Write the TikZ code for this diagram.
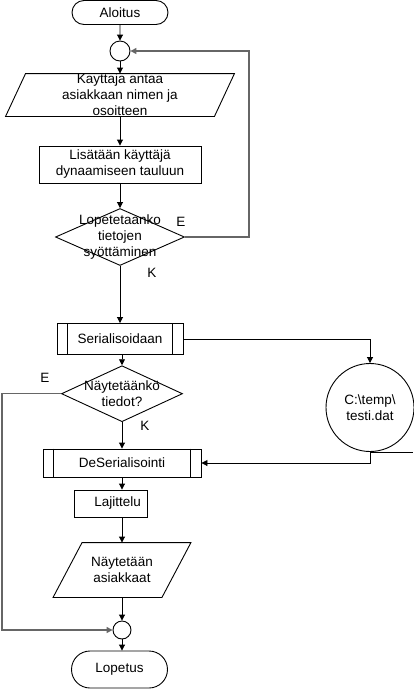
\documentclass[tikz,border=0pt]{standalone}
\usepackage{fontspec}
\setmainfont{Liberation Sans}
\usetikzlibrary{shapes.geometric,shapes.misc,arrows.meta}

\begin{document}
\begin{tikzpicture}[x=1pt,y=-1pt,line width=0.9pt,font=\fontsize{13.5}{16}\selectfont,
  alkuloppu/.style={draw, rounded rectangle, inner sep=0, minimum width=96},
  laatikko/.style={draw, rectangle, inner sep=0, align=center},
  paatos/.style={draw, diamond, inner sep=0},
  liitos/.style={draw, circle, inner sep=0},
  syotto/.style={rectangle, inner sep=0, align=center},
  nuoli/.style={-{Triangle[length=6pt,width=6pt]}},
  haara/.style={draw=black!60, line width=1.5pt}]
\useasboundingbox (0,0) rectangle (413,689);

\node[alkuloppu, minimum height=24] (alku) at (120,12.5) {Aloitus};
\node[liitos, minimum size=20] (c1) at (120,51) {};
\node[syotto, minimum width=228, minimum height=42, label={[align=center]center:Kayttaja antaa\\asiakkaan nimen ja\\osoitteen}] (syotto1) at (120,95) {};
\node[laatikko, minimum width=162, minimum height=37] (lisays) at (120,164.5) {Lisätään käyttäjä\\dynaamiseen tauluun};
\node[paatos, minimum width=129, minimum height=57, label={[align=center]center:Lopetetaanko\\tietojen\\syöttäminen}] (kysy1) at (120,237) {};
\node (e1) at (181,222) {E};
\node (k1) at (152,273) {K};
\node[laatikko, minimum width=126, minimum height=31] (ser) at (120,339) {Serialisoidaan};
\node[liitos, minimum size=88, align=center] (tiedosto) at (370,407.5) {C:\textbackslash temp\textbackslash\\testi.dat};
\node[paatos, minimum width=121, minimum height=56, label={[align=center]center:Näytetäänkö\\tiedot?}] (kysy2) at (122,393.7) {};
\node (e2) at (45,378) {E};
\node (k2) at (145,426) {K};
\node[laatikko, minimum width=158, minimum height=28] (deser) at (122,463) {DeSerialisointi};
\node[laatikko, minimum width=73, minimum height=27, label={[xshift=7]center:Lajittelu}] (lajittelu) at (110.7,503.5) {};
\node[syotto, minimum width=137, minimum height=54] (naytto) at (122,570) {Näytetään\\asiakkaat};
\node[liitos, minimum size=18] (c2) at (122,630) {};
\node[alkuloppu, minimum height=37] (loppu) at (119.5,669.5) {Lopetus};

% syottolaatikot vinoina
\draw ([xshift=20]syotto1.north west) -- (syotto1.north east) -- ([xshift=-20]syotto1.south east) -- (syotto1.south west) -- cycle;
\draw ([xshift=29]naytto.north west) -- (naytto.north east) -- ([xshift=-29]naytto.south east) -- (naytto.south west) -- cycle;
\foreach \n in {ser,deser} {
  \draw ([xshift=11]\n.north west) -- ([xshift=11]\n.south west);
  \draw ([xshift=-11]\n.north east) -- ([xshift=-11]\n.south east);
}
\draw (tiedosto.south) -- ++(43,0);

% nuolet
\draw[nuoli] (alku) -- (c1);
\draw[nuoli] (c1) -- (syotto1);
\draw[nuoli] (syotto1) -- (lisays);
\draw[nuoli] (lisays) -- (kysy1);
\draw[nuoli] (kysy1) -- (ser);
\draw[nuoli, haara] (kysy1.east) -- ++(64,0) |- (c1.east);
\draw[nuoli] (ser.east) -| (tiedosto.north);
\draw[nuoli] (ser.south -| kysy2.north) -- (kysy2.north);
\draw[nuoli] (kysy2) -- (deser);
\draw[nuoli] (tiedosto.south) |- (deser.east);
\draw[nuoli] (deser.south) -- (deser.south |- lajittelu.north);
\draw[nuoli] (lajittelu.south -| naytto.north) -- (naytto.north);
\draw[nuoli] (naytto) -- (c2);
\draw[nuoli, haara] (kysy2.west) -- ++(-59,0) |- (c2.west);
\draw[nuoli] (c2.south) -- (c2.south |- loppu.north);
\end{tikzpicture}
\end{document}
